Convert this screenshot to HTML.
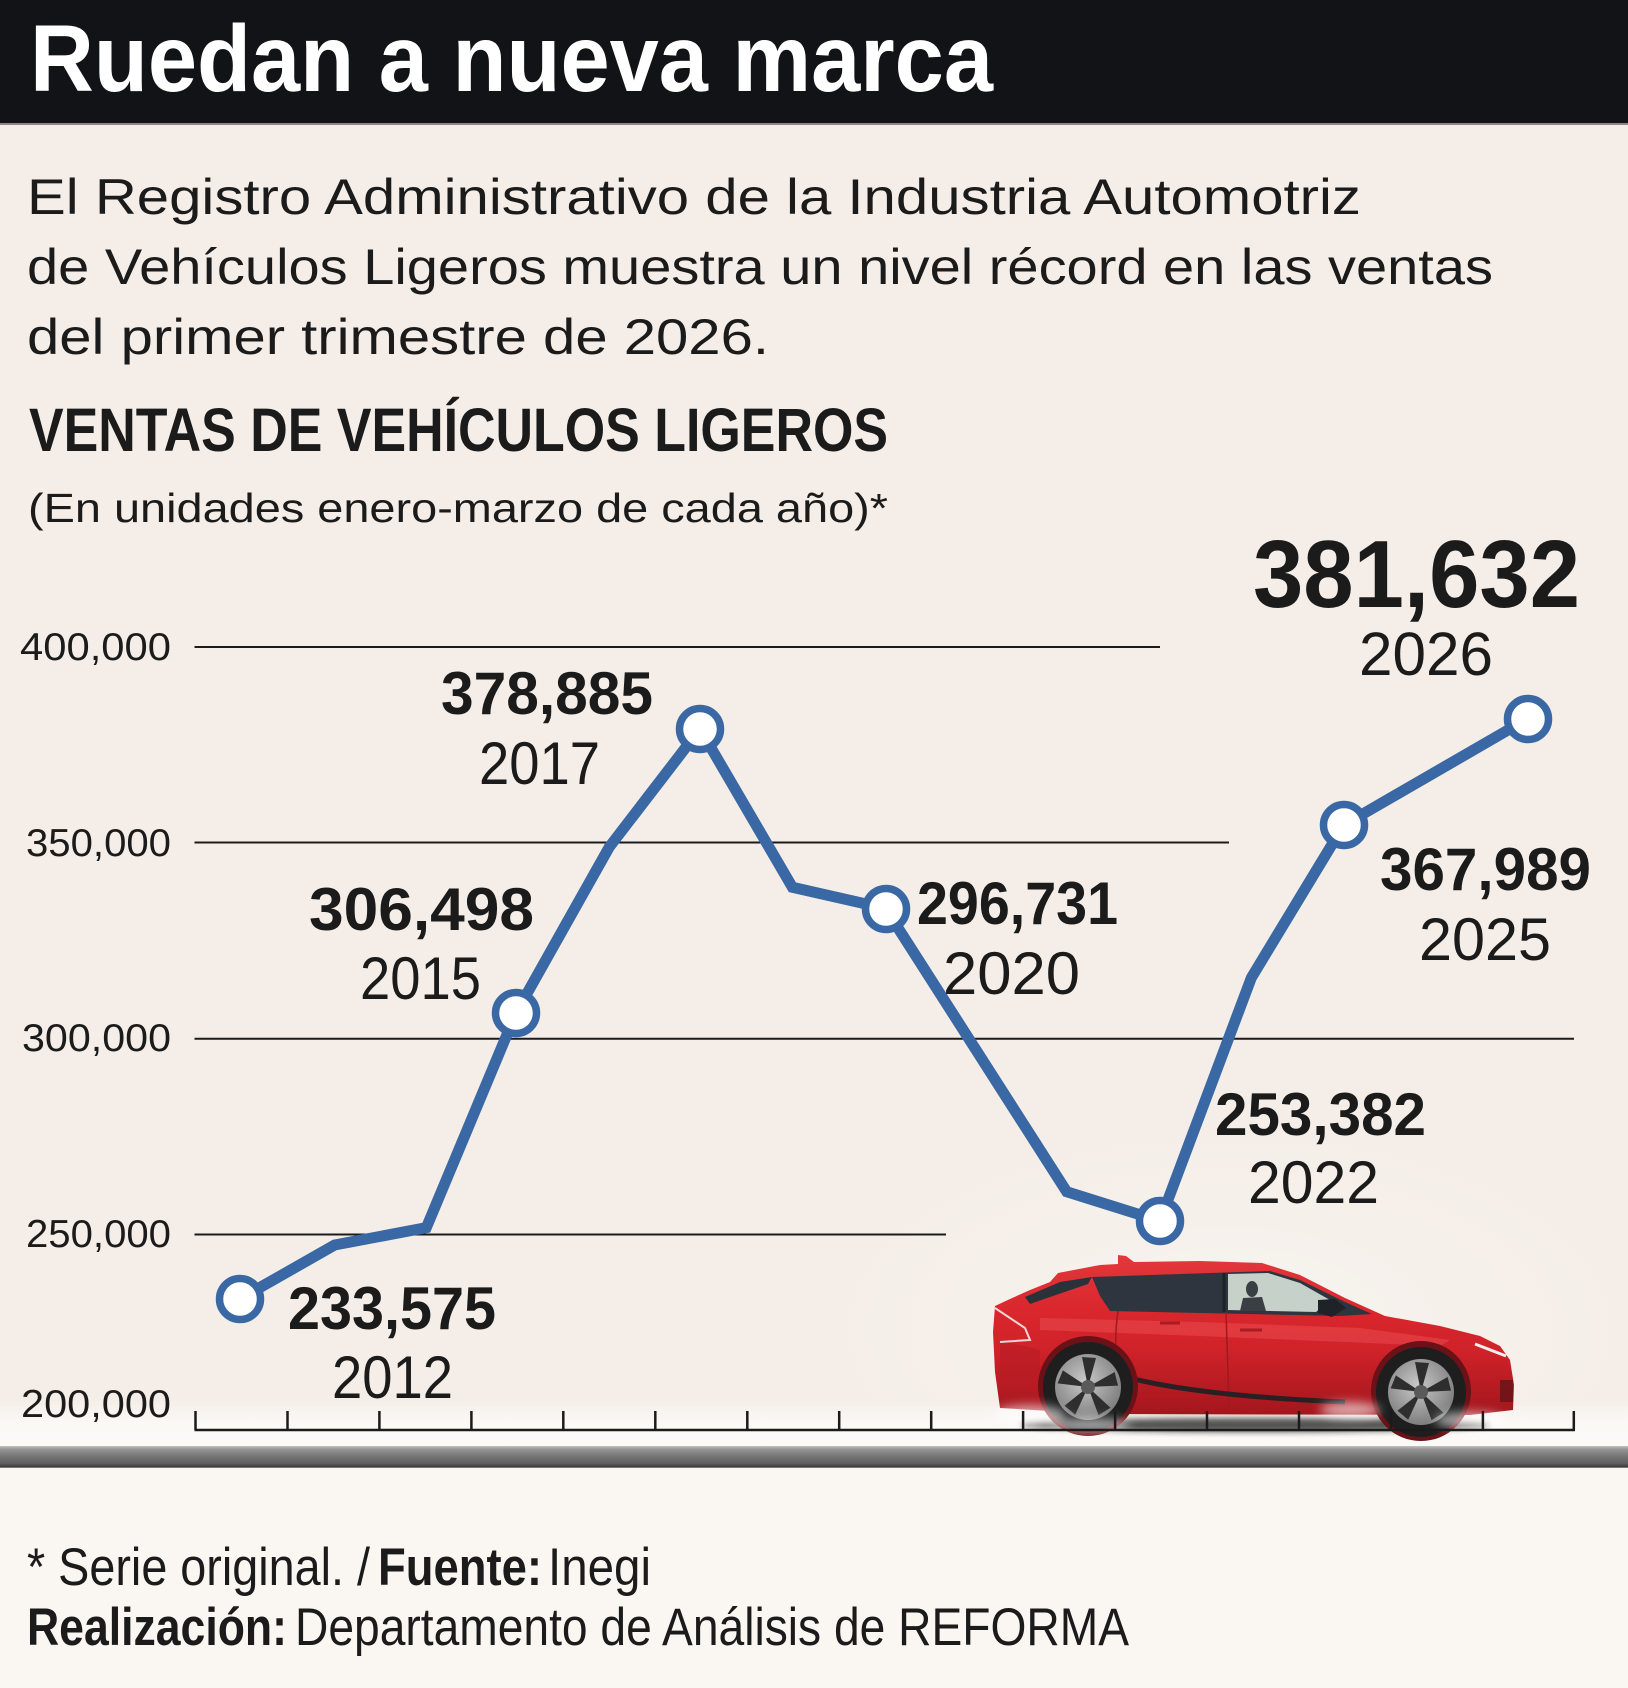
<!DOCTYPE html>
<html><head><meta charset="utf-8">
<style>
html,body{margin:0;padding:0;background:#f5eee8;}
svg{display:block;}
text{font-family:"Liberation Sans",sans-serif;fill:#1b1b1b;}
.b{font-weight:bold;}
</style></head>
<body>
<svg width="1628" height="1688" viewBox="0 0 1628 1688" xmlns="http://www.w3.org/2000/svg">
<defs>
<radialGradient id="glow" cx="0.5" cy="0.5" r="0.5">
<stop offset="0" stop-color="#f8f6f2" stop-opacity="0.9"/>
<stop offset="1" stop-color="#f5eee8" stop-opacity="0"/>
</radialGradient>
<linearGradient id="band" x1="0" y1="0" x2="0" y2="1">
<stop offset="0" stop-color="#f5eee8"/>
<stop offset="0.5" stop-color="#fbf9f6"/>
<stop offset="1" stop-color="#fcfaf8"/>
</linearGradient>
<linearGradient id="road" x1="0" y1="0" x2="0" y2="1">
<stop offset="0" stop-color="#c4c2c0"/>
<stop offset="0.15" stop-color="#959595"/>
<stop offset="0.5" stop-color="#737373"/>
<stop offset="0.8" stop-color="#5e5e5e"/>
<stop offset="0.95" stop-color="#3c3c3c"/>
<stop offset="1" stop-color="#a8a6a4"/>
</linearGradient>
<linearGradient id="body" x1="0" y1="0" x2="0" y2="1">
<stop offset="0" stop-color="#e2383c"/>
<stop offset="0.35" stop-color="#d9272d"/>
<stop offset="0.6" stop-color="#cf2229"/>
<stop offset="1" stop-color="#a3161d"/>
</linearGradient>
<radialGradient id="rim" cx="0.45" cy="0.4" r="0.6">
<stop offset="0" stop-color="#c9c9c9"/>
<stop offset="1" stop-color="#7e7e7e"/>
</radialGradient>
<filter id="blur" x="-50%" y="-50%" width="200%" height="200%"><feGaussianBlur stdDeviation="5"/></filter>
<filter id="blur2" x="-50%" y="-50%" width="200%" height="200%"><feGaussianBlur stdDeviation="3"/></filter>
</defs>

<!-- background -->
<rect x="0" y="0" width="1628" height="1688" fill="#f5eee8"/>
<ellipse cx="1230" cy="1330" rx="520" ry="260" fill="url(#glow)"/>
<rect x="0" y="1400" width="1628" height="48" fill="url(#band)"/>
<rect x="0" y="1468" width="1628" height="220" fill="#faf7f3"/>
<rect x="0" y="1446" width="1628" height="22" fill="url(#road)"/>

<!-- header -->
<rect x="0" y="0" width="1628" height="124" fill="#121316"/>
<rect x="0" y="123" width="1628" height="2" fill="#8d8781"/>
<text class="b" x="30" y="91" font-size="95" textLength="963" lengthAdjust="spacingAndGlyphs" style="fill:#ffffff">Ruedan a nueva marca</text>

<!-- intro -->
<text x="27" y="214" font-size="50" textLength="1334" lengthAdjust="spacingAndGlyphs">El Registro Administrativo de la Industria Automotriz</text>
<text x="27" y="284" font-size="50" textLength="1466" lengthAdjust="spacingAndGlyphs">de Vehículos Ligeros muestra un nivel récord en las ventas</text>
<text x="27" y="354" font-size="50" textLength="742" lengthAdjust="spacingAndGlyphs">del primer trimestre de 2026.</text>

<text class="b" x="29" y="451" font-size="61" textLength="859" lengthAdjust="spacingAndGlyphs">VENTAS DE VEHÍCULOS LIGEROS</text>
<text x="28" y="522" font-size="41" textLength="860" lengthAdjust="spacingAndGlyphs">(En unidades enero-marzo de cada año)*</text>

<!-- gridlines -->
<g stroke="#1b1b1b" stroke-width="2">
<line x1="194.5" y1="647" x2="1160" y2="647"/>
<line x1="194.5" y1="842.5" x2="1229" y2="842.5"/>
<line x1="194.5" y1="1038.7" x2="1574" y2="1038.7"/>
<line x1="194.5" y1="1234.5" x2="946" y2="1234.5"/>
</g>

<!-- y labels -->
<g font-size="39" text-anchor="end">
<text x="171" y="660" textLength="151" lengthAdjust="spacingAndGlyphs">400,000</text>
<text x="171" y="856" textLength="145" lengthAdjust="spacingAndGlyphs">350,000</text>
<text x="171" y="1051" textLength="149" lengthAdjust="spacingAndGlyphs">300,000</text>
<text x="171" y="1247" textLength="145" lengthAdjust="spacingAndGlyphs">250,000</text>
<text x="171" y="1417" textLength="150" lengthAdjust="spacingAndGlyphs">200,000</text>
</g>

<!-- car -->
<g>
<ellipse cx="1255" cy="1425" rx="235" ry="7" fill="#1a1a1a" opacity="0.75" filter="url(#blur2)"/>
<path d="M1000,1408 L995,1372 L993,1332 L995,1306 L1010,1299 L1030,1290 L1050,1282 L1058,1273 L1100,1265 L1118,1264 L1118,1255 L1126,1256 L1134,1262 L1200,1261 L1262,1263 L1300,1275 L1345,1298 L1385,1316 L1440,1326 L1480,1336 L1500,1346 L1510,1360 L1514,1385 L1513,1410 L1470,1415 L1100,1414 Z" fill="url(#body)"/>
<!-- highlights -->
<path d="M1040,1318 L1200,1322 L1360,1328 L1450,1340 L1440,1346 L1200,1336 L1040,1330 Z" fill="#ea4b4e" opacity="0.55"/>
<path d="M1000,1340 L1040,1350 L1040,1380 L1000,1380 Z" fill="#b81d24" opacity="0.6"/>
<!-- windows -->
<path d="M1025,1297 L1060,1282 L1092,1277 L1088,1284 L1050,1297 L1030,1304 Z" fill="#2b3139"/>
<path d="M1092,1277 L1270,1271 L1300,1280 L1345,1302 L1372,1314 L1340,1316 L1110,1311 L1100,1296 Z" fill="#2f353e"/>
<path d="M1228,1274 L1268,1273 L1300,1283 L1330,1300 L1316,1312 L1228,1310 Z" fill="#c6d1c9"/>
<ellipse cx="1252" cy="1289" rx="6" ry="8" fill="#3a3f44"/>
<path d="M1243,1298 L1262,1297 L1266,1311 L1240,1311 Z" fill="#3a3f44"/>
<line x1="1224" y1="1273" x2="1224" y2="1312" stroke="#1e2228" stroke-width="3"/>
<path d="M1318,1300 L1335,1299 L1346,1308 L1332,1317 L1318,1313 Z" fill="#1f2328"/>
<!-- seams and trim -->
<path d="M1118,1311 Q1112,1350 1122,1405" stroke="#9e1a1f" stroke-width="1.5" fill="none"/>
<path d="M1226,1312 L1229,1405" stroke="#9e1a1f" stroke-width="1.5" fill="none"/>
<path d="M1130,1378 Q1200,1396 1345,1402" stroke="#2a2024" stroke-width="5" fill="none"/>
<path d="M1160,1323 L1180,1323" stroke="#a81c22" stroke-width="3"/>
<path d="M1240,1330 L1262,1330" stroke="#a81c22" stroke-width="3"/>
<path d="M1475,1344 L1506,1356" stroke="#eeeeee" stroke-width="3"/>
<path d="M995,1308 L1025,1328 L1030,1340 L1000,1342" stroke="#f2d6d6" stroke-width="2" fill="none"/>
<rect x="1500" y="1380" width="13" height="22" fill="#5a1216" opacity="0.7"/>
<!-- wheel arches -->
<circle cx="1088" cy="1386" r="50" fill="#6a1217"/>
<circle cx="1421" cy="1391" r="50" fill="#6a1217"/>
<!-- wheels -->
<g>
<circle cx="1088" cy="1387" r="45" fill="#1e1e1e"/>
<circle cx="1088" cy="1387" r="33" fill="url(#rim)"/>
<g fill="#2e2e2e" transform="translate(1088,1387)">
<path d="M0,0 L-6,-30 L8,-29 Z"/>
<path d="M0,0 L-6,-30 L8,-29 Z" transform="rotate(72)"/>
<path d="M0,0 L-6,-30 L8,-29 Z" transform="rotate(144)"/>
<path d="M0,0 L-6,-30 L8,-29 Z" transform="rotate(216)"/>
<path d="M0,0 L-6,-30 L8,-29 Z" transform="rotate(288)"/>
</g>
<circle cx="1088" cy="1387" r="7" fill="#5a5a5a"/>
<circle cx="1421" cy="1392" r="45" fill="#1e1e1e"/>
<circle cx="1421" cy="1392" r="33" fill="url(#rim)"/>
<g fill="#2e2e2e" transform="translate(1421,1392)">
<path d="M0,0 L-6,-30 L8,-29 Z"/>
<path d="M0,0 L-6,-30 L8,-29 Z" transform="rotate(72)"/>
<path d="M0,0 L-6,-30 L8,-29 Z" transform="rotate(144)"/>
<path d="M0,0 L-6,-30 L8,-29 Z" transform="rotate(216)"/>
<path d="M0,0 L-6,-30 L8,-29 Z" transform="rotate(288)"/>
</g>
<circle cx="1421" cy="1392" r="7" fill="#5a5a5a"/>
</g>
<!-- smoke -->
<g fill="#ffffff" opacity="0.6" filter="url(#blur)">
<ellipse cx="1030" cy="1415" rx="35" ry="10"/>
<ellipse cx="1090" cy="1425" rx="40" ry="7"/>
<ellipse cx="1350" cy="1410" rx="30" ry="8"/>
<ellipse cx="1470" cy="1420" rx="35" ry="8"/>
</g>
</g>

<!-- axis -->
<g stroke="#1b1b1b" stroke-width="2.5">
<line x1="194.5" y1="1430" x2="1575" y2="1430"/>
<line x1="195.5" y1="1411" x2="195.5" y2="1430"/>
<line x1="287.5" y1="1411" x2="287.5" y2="1430"/>
<line x1="379.4" y1="1411" x2="379.4" y2="1430"/>
<line x1="471.4" y1="1411" x2="471.4" y2="1430"/>
<line x1="563.3" y1="1411" x2="563.3" y2="1430"/>
<line x1="655.3" y1="1411" x2="655.3" y2="1430"/>
<line x1="747.3" y1="1411" x2="747.3" y2="1430"/>
<line x1="839.2" y1="1411" x2="839.2" y2="1430"/>
<line x1="931.2" y1="1411" x2="931.2" y2="1430"/>
<line x1="1023.1" y1="1411" x2="1023.1" y2="1430"/>
<line x1="1115.1" y1="1411" x2="1115.1" y2="1430"/>
<line x1="1207" y1="1411" x2="1207" y2="1430"/>
<line x1="1299" y1="1411" x2="1299" y2="1430"/>
<line x1="1391" y1="1411" x2="1391" y2="1430"/>
<line x1="1482.9" y1="1411" x2="1482.9" y2="1430"/>
<line x1="1573.8" y1="1411" x2="1573.8" y2="1430"/>
</g>

<!-- series -->
<polyline points="240.6,1298.5 334.7,1245 426.3,1227.7 516,1013 609.3,847 700,729 792.4,887.3 885.5,908.4 1066.7,1191.7 1160,1221 1251.4,977.6 1343.8,825 1527.6,718.7" fill="none" stroke="#3a68a4" stroke-width="11" stroke-linejoin="miter"/>
<g fill="#ffffff" stroke="#3a68a4" stroke-width="7.5">
<circle cx="240" cy="1299" r="20.5"/>
<circle cx="516" cy="1013" r="20.5"/>
<circle cx="700" cy="729" r="20.5"/>
<circle cx="886" cy="909" r="20.5"/>
<circle cx="1160" cy="1221" r="20.5"/>
<circle cx="1344" cy="825" r="20.5"/>
<circle cx="1528" cy="719" r="20.5"/>
</g>

<!-- data labels -->
<g font-size="60">
<text class="b" x="441" y="714" textLength="212" lengthAdjust="spacingAndGlyphs">378,885</text>
<text x="479" y="784" textLength="121" lengthAdjust="spacingAndGlyphs">2017</text>
<text class="b" x="309" y="930" textLength="225" lengthAdjust="spacingAndGlyphs">306,498</text>
<text x="360" y="999" textLength="121" lengthAdjust="spacingAndGlyphs">2015</text>
<text class="b" x="288" y="1329" textLength="208" lengthAdjust="spacingAndGlyphs">233,575</text>
<text x="332" y="1398" textLength="121" lengthAdjust="spacingAndGlyphs">2012</text>
<text class="b" x="917" y="924" textLength="201" lengthAdjust="spacingAndGlyphs">296,731</text>
<text x="943" y="994" textLength="137" lengthAdjust="spacingAndGlyphs">2020</text>
<text class="b" x="1380" y="890" textLength="211" lengthAdjust="spacingAndGlyphs">367,989</text>
<text x="1419" y="960" textLength="132" lengthAdjust="spacingAndGlyphs">2025</text>
<text class="b" x="1215" y="1135" textLength="211" lengthAdjust="spacingAndGlyphs">253,382</text>
<text x="1248" y="1203" textLength="131" lengthAdjust="spacingAndGlyphs">2022</text>
</g>
<text class="b" x="1253" y="607" font-size="96" textLength="327" lengthAdjust="spacingAndGlyphs">381,632</text>
<text x="1359" y="675" font-size="61" textLength="134" lengthAdjust="spacingAndGlyphs">2026</text>

<!-- footer -->
<g font-size="53">
<text x="27" y="1585" textLength="343" lengthAdjust="spacingAndGlyphs">* Serie original. /</text>
<text class="b" x="378" y="1585" textLength="164" lengthAdjust="spacingAndGlyphs">Fuente:</text>
<text x="548" y="1585" textLength="103" lengthAdjust="spacingAndGlyphs">Inegi</text>
<text class="b" x="27" y="1645" textLength="260" lengthAdjust="spacingAndGlyphs">Realización:</text>
<text x="295" y="1645" textLength="834" lengthAdjust="spacingAndGlyphs">Departamento de Análisis de REFORMA</text>
</g>
</svg>
</body></html>
